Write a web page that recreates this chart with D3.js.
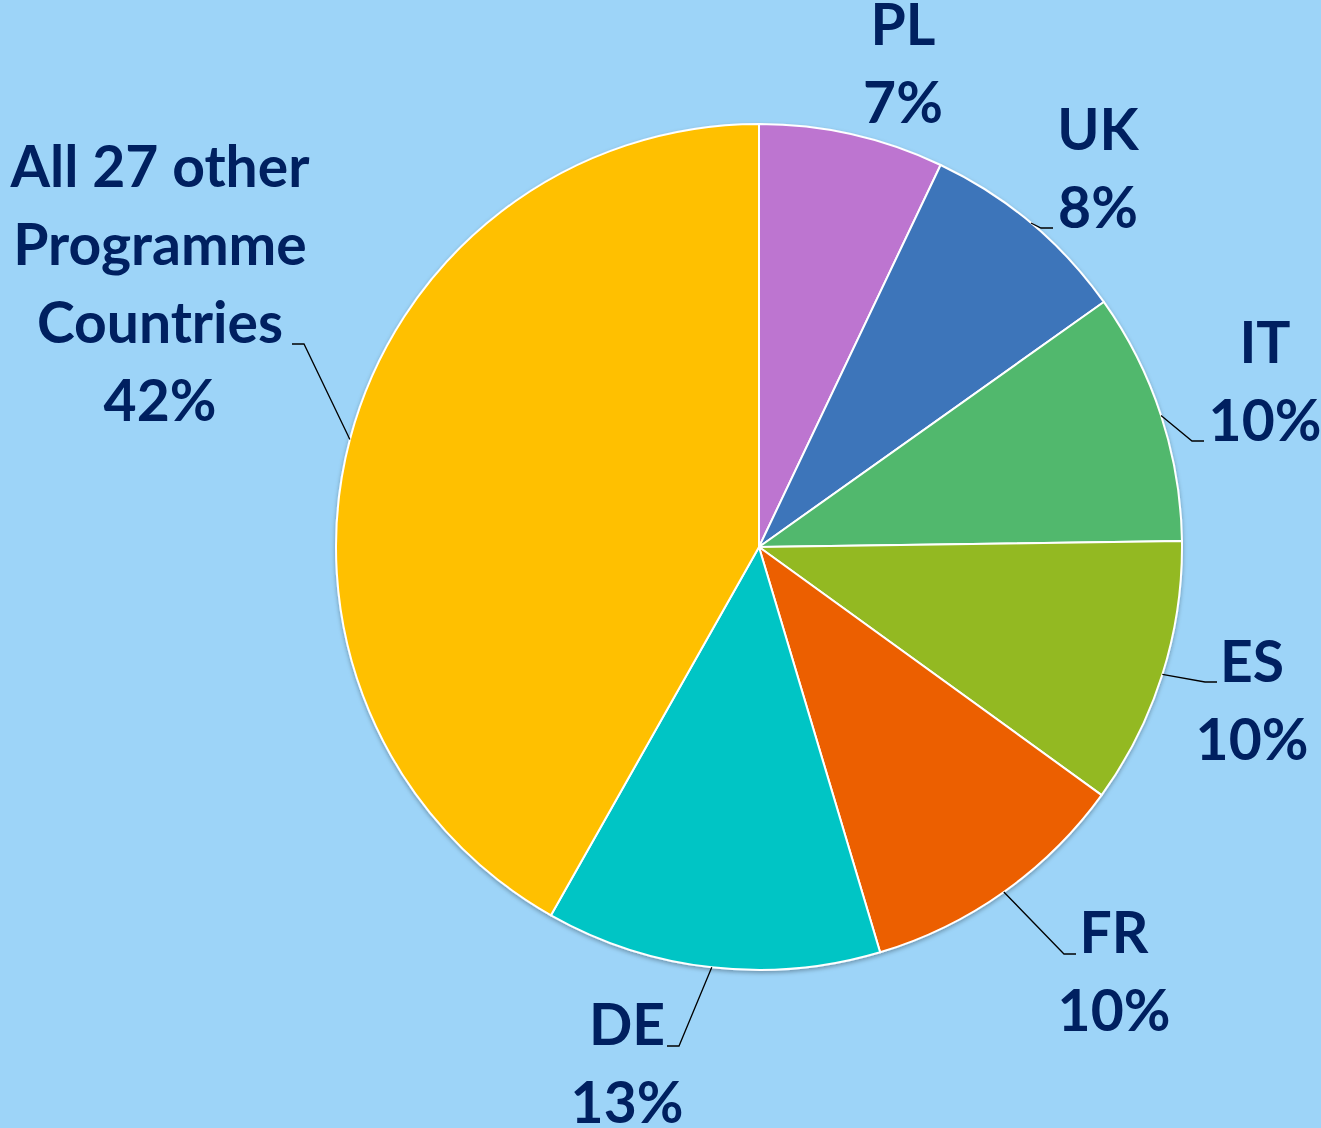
<!DOCTYPE html>
<html>
<head>
<meta charset="utf-8">
<script src="https://cdn.jsdelivr.net/npm/d3@7"></script>
<style>
  html, body { margin: 0; padding: 0; background: #9dd4f8; }
  .label { font-family: Lato, 'Open Sans', sans-serif; font-weight: 700; font-size: 57px; fill: #002060; }
</style>
</head>
<body>
<div id="chart"></div>
<script>
const WIDTH = 1321
const HEIGHT = 1128

// shares clockwise from 12 o'clock
const countries = ['PL', 'UK', 'IT', 'ES', 'FR', 'DE', 'All 27 other Programme Countries']
const shares = [7.06, 8.1, 9.6, 10.2, 10.4, 12.8, 41.8]
const colors = ['#bd74d0', '#3c74ba', '#51b86d', '#93b924', '#ec5f00', '#05c5c5', '#ffc000']

// label text lines (name part) and manual label placement, Excel style
const nameLines = [['PL'], ['UK'], ['IT'], ['ES'], ['FR'], ['DE'], ['All 27 other', 'Programme', 'Countries']]
const labelAt = [
  { x: 903, y: 45 },
  { x: 1098, y: 150, hook: [1053, 228], side: 1 },
  { x: 1265, y: 363, hook: [1204, 441], side: 1 },
  { x: 1252, y: 682, hook: [1217, 682], side: 1 },
  { x: 1114, y: 953, hook: [1076, 954], side: 1 },
  { x: 627, y: 1045, hook: [667, 1046], side: -1 },
  { x: 160, y: 187, hook: [292, 344], side: -1 }
]

const cx = 759
const cy = 547
const radius = 423
const lineH = 78

const svg = d3.select('#chart')
  .append('svg')
  .attr('width', WIDTH)
  .attr('height', HEIGHT)

svg.append('rect').attr('width', WIDTH).attr('height', HEIGHT).attr('fill', '#9dd4f8')

const defs = svg.append('defs')
defs.append('filter').attr('id', 'shadow')
  .attr('x', '-10%').attr('y', '-10%').attr('width', '120%').attr('height', '120%')
  .append('feDropShadow')
  .attr('dx', 0).attr('dy', 2).attr('stdDeviation', 2)
  .attr('flood-color', '#000').attr('flood-opacity', 0.3)

const data = countries.map((c, i) => ({ name: c, value: shares[i], color: colors[i], lines: nameLines[i], pos: labelAt[i] }))
const total = d3.sum(shares)
const pct = d3.format('.0%')

const pie = d3.pie().sort(null).value(d => d.value)
const arcs = pie(data)
const arc = d3.arc().innerRadius(0).outerRadius(radius)
const edge = d3.arc().innerRadius(radius).outerRadius(radius)

const g = svg.append('g').attr('transform', `translate(${cx},${cy})`)

g.append('g')
  .attr('filter', 'url(#shadow)')
  .selectAll('path')
  .data(arcs)
  .enter()
  .append('path')
  .attr('d', arc)
  .attr('fill', d => d.data.color)
  .attr('stroke', '#fff')
  .attr('stroke-width', 2)
  .attr('stroke-linejoin', 'round')

// leader lines
arcs.filter(d => d.data.pos.hook).forEach(d => {
  const [sx, sy] = edge.centroid(d)
  const [hx, hy] = d.data.pos.hook
  const ex = hx - d.data.pos.side * 12
  svg.append('polyline')
    .attr('points', `${cx + sx},${cy + sy} ${ex},${hy} ${hx},${hy}`)
    .attr('fill', 'none')
    .attr('stroke', '#000')
    .attr('stroke-width', 1.3)
})

// labels
arcs.forEach(d => {
  const lines = d.data.lines.concat([pct(d.data.value / total)])
  const t = svg.append('text')
    .attr('class', 'label')
    .attr('text-anchor', 'middle')
  lines.forEach((l, i) => {
    t.append('tspan')
      .attr('x', d.data.pos.x)
      .attr('y', d.data.pos.y + i * lineH)
      .text(l)
  })
})
</script>
</body>
</html>
